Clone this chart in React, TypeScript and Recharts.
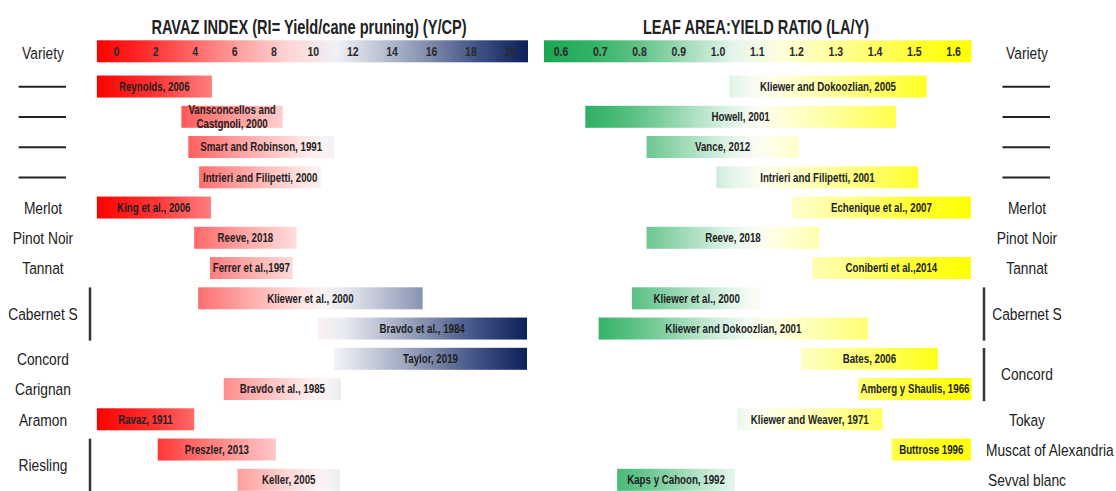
import React from "react";
import { BarChart, Bar, XAxis, YAxis } from "recharts";

const FONT = "'Liberation Sans', Arial, sans-serif";
const NARROW = 0.81;

// Ravaz index panel (left)
const ravazTitle = "RAVAZ INDEX (RI= Yield/cane pruning) (Y/CP)";
const ravazDomain: [number, number] = [-1, 20.9];
const ravazTicks = [0, 2, 4, 6, 8, 10, 12, 14, 16, 18, 20];
const ravazStudies = [
  "Reynolds, 2006",
  "Vansconcellos and\nCastgnoli, 2000",
  "Smart and Robinson, 1991",
  "Intrieri and Filipetti, 2000",
  "King et al., 2006",
  "Reeve, 2018",
  "Ferrer et al.,1997",
  "Kliewer et al., 2000",
  "Bravdo et al., 1984",
  "Taylor, 2019",
  "Bravdo et al., 1985",
  "Ravaz, 1911",
  "Preszler, 2013",
  "Keller, 2005",
];
const ravazLow = [-1, 3.3, 3.65, 4.2, -1, 3.95, 4.75, 4.15, 10.2, 11.05, 5.45, -1, 2.1, 6.15];
const ravazHigh = [4.85, 8.45, 11.05, 10.4, 4.8, 9.15, 8.95, 15.55, 20.85, 20.85, 11.4, 3.95, 8.1, 11.35];
const ravazVarieties = ["Variety", "—", "—", "—", "—", "Merlot", "Pinot Noir", "Tannat", "Cabernet S", "", "Concord", "Carignan", "Aramon", "Riesling", ""];
const ravazSpans = [1, 1, 1, 1, 1, 1, 1, 1, 2, 0, 1, 1, 1, 2, 0];
const ravazColors: [number, string][] = [
  [-1, "#ff0000"], [2, "#ff3535"], [4, "#ff6a6a"], [6, "#ff9a9a"], [8, "#ffc6c6"],
  [10, "#fff0f0"], [11, "#f3f4f8"], [12, "#dde1ea"], [14, "#aeb6cb"], [16, "#7c89aa"],
  [18, "#47588a"], [20.9, "#0b1f58"],
];

// Leaf area : yield panel (right)
const laTitle = "LEAF AREA:YIELD RATIO (LA/Y)";
const laDomain: [number, number] = [0.556, 1.646];
const laTicks = [0.6, 0.7, 0.8, 0.9, 1.0, 1.1, 1.2, 1.3, 1.4, 1.5, 1.6];
const laStudies = [
  "Kliewer and Dokoozlian, 2005",
  "Howell, 2001",
  "Vance, 2012",
  "Intrieri and Filipetti, 2001",
  "Echenique et al., 2007",
  "Reeve, 2018",
  "Coniberti et al.,2014",
  "Kliewer et al., 2000",
  "Kliewer and Dokoozlian, 2001",
  "Bates, 2006",
  "Amberg y Shaulis, 1966",
  "Kliewer and Weaver, 1971",
  "Buttrose 1996",
  "Kaps y Cahoon, 1992",
];
const laLow = [1.029, 0.662, 0.818, 0.996, 1.188, 0.818, 1.239, 0.781, 0.696, 1.211, 1.357, 1.048, 1.442, 0.743];
const laHigh = [1.531, 1.453, 1.205, 1.51, 1.644, 1.258, 1.644, 1.11, 1.382, 1.56, 1.646, 1.419, 1.644, 1.043];
const laVarieties = ["Variety", "—", "—", "—", "—", "Merlot", "Pinot Noir", "Tannat", "Cabernet S", "", "Concord", "", "Tokay", "Muscat of Alexandria", "Sevval blanc"];
const laSpans = [1, 1, 1, 1, 1, 1, 1, 1, 2, 0, 2, 0, 1, 1, 1];
const laColors: [number, string][] = [
  [0.556, "#1ca653"], [0.7, "#36b46a"], [0.8, "#62c389"], [0.9, "#98d8b1"], [1.0, "#d0eedd"],
  [1.05, "#eaf7ef"], [1.1, "#fdfdf5"], [1.15, "#ffffe2"], [1.2, "#ffffc8"], [1.3, "#ffff99"],
  [1.4, "#ffff66"], [1.5, "#ffff30"], [1.646, "#ffff00"],
];

const ROWS = 15;
const CHART_H = 500;
const TOP = 41.3;
const STEP = 30.25;
const BOTTOM = CHART_H - TOP - ROWS * STEP;
const HEADER_LIFT = 5;

function hexToRgb(h: string) {
  const n = parseInt(h.slice(1), 16);
  return [(n >> 16) & 255, (n >> 8) & 255, n & 255];
}

function colorAt(stops: [number, string][], v: number) {
  if (v <= stops[0][0]) return stops[0][1];
  for (let i = 1; i < stops.length; i++) {
    if (v <= stops[i][0]) {
      const [v0, c0] = stops[i - 1];
      const [v1, c1] = stops[i];
      const t = (v - v0) / (v1 - v0);
      const a = hexToRgb(c0), b = hexToRgb(c1);
      const m = a.map((x, k) => Math.round(x + (b[k] - x) * t));
      return `rgb(${m[0]},${m[1]},${m[2]})`;
    }
  }
  return stops[stops.length - 1][1];
}

function buildRows(domain: [number, number], studies: string[], low: number[], high: number[]) {
  const rows = [{ row: 0, range: domain, study: "", header: true }];
  studies.forEach((s, i) => rows.push({ row: i + 1, range: [low[i], high[i]], study: s, header: false }));
  return rows;
}

// condensed text: the source uses an Arial Narrow look
function NText({ x, y, scale = NARROW, children, ...rest }: any) {
  return (
    <text transform={`translate(${x},${y}) scale(${scale},1)`} x={0} y={0} fontFamily={FONT} {...rest}>
      {children}
    </text>
  );
}

function GradientBar(props: any) {
  const { x, y, width, height, payload, index, side, stops, ticks } = props;
  const [lo, hi] = payload.range;
  const id = `g-${side}-${index}`;
  const n = 10;
  const offsets = Array.from({ length: n }, (_, k) => k / (n - 1));
  const grad = (
    <defs>
      <linearGradient id={id} x1="0" y1="0" x2="1" y2="0">
        {offsets.map((o) => (
          <stop key={o} offset={o} stopColor={colorAt(stops, lo + (hi - lo) * o)} />
        ))}
      </linearGradient>
    </defs>
  );
  if (payload.header) {
    const yy = y - HEADER_LIFT;
    return (
      <g>
        {grad}
        <rect x={x} y={yy} width={width} height={height} fill={`url(#${id})`} />
        {ticks.map((t: number) => (
          <NText
            key={t}
            x={x + ((t - lo) / (hi - lo)) * width}
            y={yy + height / 2}
            dy="0.36em"
            textAnchor="middle"
            fontWeight="bold"
            fontSize={13}
            fill="#2a2a2a"
          >
            {side === "la" ? t.toFixed(1) : t}
          </NText>
        ))}
      </g>
    );
  }
  const lines = String(payload.study).split("\n");
  const cy = y + height / 2;
  return (
    <g>
      {grad}
      <rect x={x} y={y} width={width} height={height} fill={`url(#${id})`} />
      <NText
        x={x + width / 2}
        y={cy - ((lines.length - 1) * 14) / 2}
        textAnchor="middle"
        fontWeight="bold"
        fontSize={12}
        fill="#1e1e1e"
      >
        {lines.map((l, i) => (
          <tspan key={i} x={0} dy={i === 0 ? "0.36em" : 14}>
            {l}
          </tspan>
        ))}
      </NText>
    </g>
  );
}

function VarietyTick(props: any) {
  const { y, payload, labels, spans, cx, dashX, bracketX } = props;
  const i = payload.index ?? Number(payload.value);
  const label = labels[i];
  const span = spans[i];
  if (!label) return null;
  if (label === "—") {
    return <line x1={dashX[0]} x2={dashX[1]} y1={y} y2={y} stroke="#222" strokeWidth={2} />;
  }
  const ty = i === 0 ? y - 4 : span === 2 ? y + STEP / 2 : y;
  const long = label.length > 14;
  return (
    <g>
      {span === 2 && (
        <line x1={bracketX} x2={bracketX} y1={y - 11} y2={y + STEP + 12} stroke="#333" strokeWidth={2.5} />
      )}
      <NText
        x={long ? cx - 41 : cx}
        y={ty}
        dy="0.36em"
        textAnchor={long ? "start" : "middle"}
        fontSize={17}
        fill="#222"
      >
        {label}
      </NText>
    </g>
  );
}

const ravazRows = buildRows(ravazDomain, ravazStudies, ravazLow, ravazHigh);
const laRows = buildRows(laDomain, laStudies, laLow, laHigh);

export default function App() {
  return (
    <div
      style={{
        position: "absolute",
        left: 0,
        top: 0,
        width: 1116,
        height: 491,
        overflow: "hidden",
        background: "#fff",
      }}
    >
      <svg width={1116} height={491} style={{ position: "absolute", left: 0, top: 0 }}>
        <NText x={309} y={34} scale={0.73} textAnchor="middle" fontWeight="bold" fontSize={20} fill="#222">
          {ravazTitle}
        </NText>
        <NText x={756} y={34} scale={0.73} textAnchor="middle" fontWeight="bold" fontSize={20} fill="#222">
          {laTitle}
        </NText>
      </svg>

      <div style={{ position: "absolute", left: 0, top: 0 }}>
        <BarChart
          layout="vertical"
          width={540}
          height={CHART_H}
          data={ravazRows}
          margin={{ top: TOP, bottom: BOTTOM, left: 0, right: 12 }}
          barSize={22}
        >
          <XAxis type="number" domain={ravazDomain} hide allowDataOverflow />
          <YAxis
            type="category"
            dataKey="row"
            width={96.7}
            axisLine={false}
            tickLine={false}
            interval={0}
            tick={(p: any) => (
              <VarietyTick {...p} labels={ravazVarieties} spans={ravazSpans} cx={43} dashX={[18.6, 66]} bracketX={90} />
            )}
          />
          <Bar
            dataKey="range"
            isAnimationActive={false}
            shape={(p: any) => <GradientBar {...p} side="ravaz" stops={ravazColors} ticks={ravazTicks} />}
          />
        </BarChart>
      </div>

      <div style={{ position: "absolute", left: 540, top: 0 }}>
        <BarChart
          layout="vertical"
          width={576}
          height={CHART_H}
          data={laRows}
          margin={{ top: TOP, bottom: BOTTOM, left: 3.7, right: 0 }}
          barSize={22}
        >
          <XAxis type="number" domain={laDomain} hide allowDataOverflow />
          <YAxis
            type="category"
            dataKey="row"
            orientation="right"
            width={144.3}
            axisLine={false}
            tickLine={false}
            interval={0}
            tick={(p: any) => (
              <VarietyTick {...p} labels={laVarieties} spans={laSpans} cx={487} dashX={[462.5, 510]} bracketX={444} />
            )}
          />
          <Bar
            dataKey="range"
            isAnimationActive={false}
            shape={(p: any) => <GradientBar {...p} side="la" stops={laColors} ticks={laTicks} />}
          />
        </BarChart>
      </div>
    </div>
  );
}
